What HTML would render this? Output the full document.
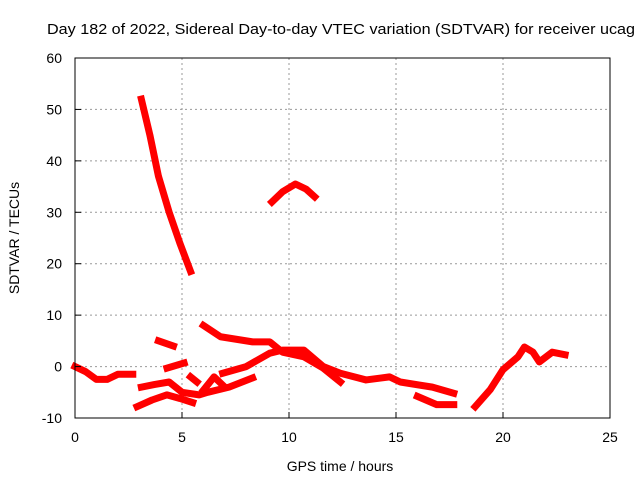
<!DOCTYPE html>
<html><head><meta charset="utf-8"><style>
body{margin:0;background:#fff}
svg{display:block;font-family:"Liberation Sans",sans-serif}
</style></head><body>
<svg id="chart" width="640" height="480" xmlns="http://www.w3.org/2000/svg">
<text x="47" y="34" font-size="14.5" textLength="588" lengthAdjust="spacingAndGlyphs">Day 182 of 2022, Sidereal Day-to-day VTEC variation (SDTVAR) for receiver ucag</text>
<text x="340" y="471" font-size="14" text-anchor="middle">GPS time / hours</text>
<text x="0" y="0" font-size="14" text-anchor="middle" transform="translate(19,238) rotate(-90)">SDTVAR / TECUs</text>
<g id="grid"></g>
<g id="marks"></g>
<rect x="75" y="58" width="535" height="360" fill="none" stroke="#000" stroke-width="1"/>
<g id="ticks"></g>
</svg>
<script>
const xTicks=[0,5,10,15,20,25];
const yTicks=[-10,0,10,20,30,40,50,60];
const seg1=[[3.1,52],[3.5,45],[3.9,37],[4.4,30],[4.9,24],[5.4,18.5]];
const seg2=[[9.2,32],[9.7,34],[10.3,35.5],[10.8,34.5],[11.2,33]];
const seg3=[[0,0],[0.5,-1],[1,-2.5],[1.5,-2.5],[2,-1.5],[2.7,-1.5]];
const seg4=[[3.9,5],[4.6,4]];
const seg5=[[2.9,-7.8],[3.6,-6.5],[4.3,-5.5],[4.9,-6.2],[5.5,-7]];
const seg6=[[3.1,-4],[3.7,-3.5],[4.4,-3],[5,-5],[5.8,-5.5],[6.2,-5],[7.2,-4],[8.3,-2.2]];
const seg7=[[4.3,-0.3],[5.1,0.7]];
const seg8=[[5.4,-2],[5.7,-3]];
const seg9=[[6,-4.6],[6.5,-2],[6.9,-3.6]];
const seg10=[[6.9,-1.3],[8,0],[9.1,2.6],[9.7,3.2],[10.7,3.2],[11.6,0],[12.4,-1.3],[13.6,-2.6],[14.7,-2],[15.2,-3],[16.7,-4],[17.7,-5.2]];
const seg11=[[6,8],[6.8,5.8],[8.3,4.8],[9.1,4.8],[9.7,2.8],[10.7,1.9],[11.6,-0.3],[12.4,-3]];
const seg12=[[16,-5.8],[16.9,-7.4],[17.7,-7.4]];
const seg13=[[18.7,-7.8],[19.4,-4.5],[20,-0.6],[20.7,1.9],[21,3.8],[21.4,2.8],[21.7,0.9],[22.3,2.8],[22.9,2.3]];
const series=[seg1,seg2,seg3,seg4,seg5,seg6,seg7,seg8,seg9,seg10,seg11,seg12,seg13];
const X=h=>75+h*535/25, Y=v=>418-(v+10)*360/70;
const NS="http://www.w3.org/2000/svg";
const grid=document.getElementById('grid'),ticks=document.getElementById('ticks'),marks=document.getElementById('marks');
function mk(tag,attrs,parent){const e=document.createElementNS(NS,tag);for(const k in attrs)e.setAttribute(k,attrs[k]);parent.appendChild(e);return e;}
xTicks.forEach(t=>{const x=X(t);
 if(t>0&&t<25){const l=mk('line',{x1:x,x2:x,y1:58,y2:418,stroke:'#999','stroke-dasharray':'2,3'},grid);
 
 }
 const tk=mk('line',{x1:x,x2:x,y1:418,y2:412,stroke:'#000'},ticks);
 
 
 const tx=mk('text',{x:x,y:442,'font-size':14,'text-anchor':'middle'},ticks);tx.textContent=t;
 
 });
yTicks.forEach(t=>{const y=Y(t);
 if(t>-10&&t<60){const l=mk('line',{x1:75,x2:610,y1:y,y2:y,stroke:'#999','stroke-dasharray':'2,3'},grid);
 
 }
 const tk=mk('line',{x1:75,x2:81,y1:y,y2:y,stroke:'#000'},ticks);
 
 
 const tx=mk('text',{x:62,y:y+5,'font-size':14,'text-anchor':'end'},ticks);tx.textContent=t;
 
 });
series.forEach(s=>{const p=mk('polyline',{points:s.map(d=>X(d[0])+','+Y(d[1])).join(' '),fill:'none',stroke:'#f00','stroke-width':7,'stroke-linejoin':'round','stroke-linecap':'square'},marks);
 
 });
</script>
</body></html>
